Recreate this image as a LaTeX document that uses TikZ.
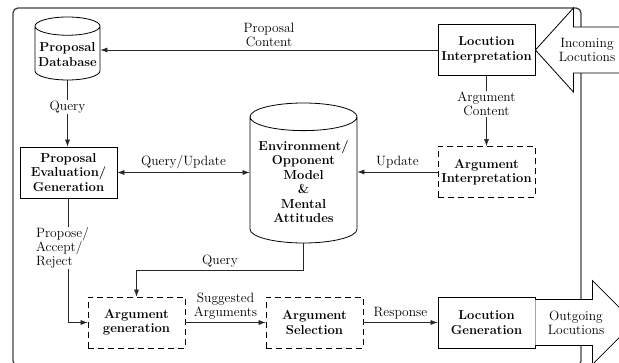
\documentclass[tikz,border=0pt]{standalone}
\usetikzlibrary{arrows.meta,shapes.geometric}
\begin{document}
\begin{tikzpicture}[x=1pt,y=-1pt,font=\fontsize{13.5}{14}\selectfont,
  box/.style={draw,thick,minimum width=97pt,minimum height=51pt,inner sep=1pt,align=center,font=\fontsize{13}{14.5}\selectfont\bfseries},
  dbox/.style={box,dash pattern=on 6pt off 4pt},
  db/.style={draw,thick,cylinder,shape border rotate=90,aspect=0.3,anchor=shape center,inner sep=1pt,align=center,font=\fontsize{13}{14.5}\selectfont\bfseries},
  lbl/.style={fill=white,inner sep=1pt,align=center},
  line/.style={draw=black!85,semithick},
  >={Latex[length=7pt,width=5pt]}]
\useasboundingbox (0,0) rectangle (619,363);
\draw[black!75,line width=1.3pt,rounded corners=5pt] (13,8) rectangle (581,366);
% stores and boxes
\node[db,minimum width=65pt,minimum height=63pt] (pdb) at (67.5,48.5) {Proposal\\Database};
\node[db,minimum width=107pt,minimum height=140pt] (env) at (303.5,173) {Environment/\\Opponent\\Model\\\&\\Mental\\Attitudes};
\node[box] (locint) at (486.5,50) {Locution\\Interpretation};
\node[dbox] (argint) at (486.5,172) {Argument\\Interpretation};
\node[box] (peval) at (68.5,172.5) {Proposal\\Evaluation/\\Generation};
\node[dbox] (arggen) at (136.5,322.5) {Argument\\generation};
\node[dbox] (argsel) at (314.5,322.5) {Argument\\Selection};
\node[box] (locgen) at (486.5,322.5) {Locution\\Generation};
% connectors
\draw[->,line] (locint.west) -- node[above,align=center] {Proposal\\Content} (pdb.east |- locint.west);
\draw[->,line] (pdb.south) -- node[lbl,pos=0.4] {Query} (pdb.south |- peval.north);
\draw[<->,line] (peval.east) -- node[above] {Query/Update} (env.west |- peval.east);
\draw[->,line] (argint.west) -- node[above] {Update} (env.east |- argint.west);
\draw[->,line] (locint.south) -- node[lbl,pos=0.4] {Argument\\Content} (argint.north);
\draw[->,line] (peval.south) |- node[lbl,pos=0.2,align=left,xshift=-6pt] {Propose/\\Accept/\\Reject} (arggen.west);
\draw[->,line] (env.south) -- ++(0,27) -| node[pos=0.25,above] {Query} (arggen.north);
\draw[->,line] (arggen.east) -- node[above,align=center] {Suggested\\Arguments} (argsel.west);
\draw[->,line] (argsel.east) -- node[above] {Response} (locgen.west);
% big arrows in and out
\draw[thick,fill=white] (locint.east) -- ++(38,-42) -- ++(0,19) -- ++(52,0) -- ++(0,46) -- ++(-52,0) -- ++(0,19) -- cycle;
\node[align=center] (inc) at (587,50) {Incoming\\Locutions};
\draw[thick,fill=white] (locgen.east) ++(0,-23) -- ++(57,0) -- ++(0,-19) -- ++(42,42) -- ++(-42,42) -- ++(0,-19) -- ++(-57,0);
\node[align=center] (out) at (576,323) {Outgoing\\Locutions};
\end{tikzpicture}
\end{document}
